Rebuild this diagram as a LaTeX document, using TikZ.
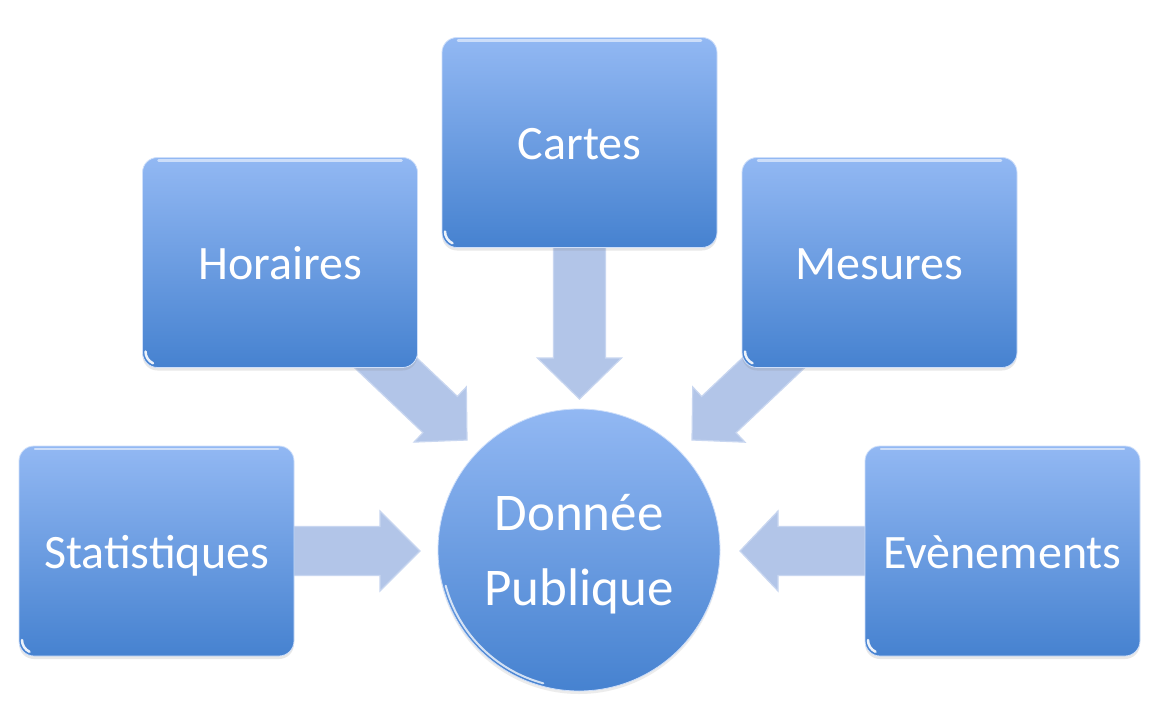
\documentclass[tikz,border=0pt]{standalone}
\usepackage{fontspec}
\setmainfont{Carlito}
\usetikzlibrary{calc,shadows}
\pgfdeclarelayer{canvasbg}
\pgfdeclarelayer{background}
\pgfsetlayers{canvasbg,background,main}
\definecolor{boxtop}{RGB}{146,184,243}
\definecolor{boxbot}{RGB}{70,130,208}
\definecolor{arrowfill}{RGB}{178,197,232}
\definecolor{arrowedge}{RGB}{200,214,240}
\tikzset{
  glossybox/.style={path picture={
    \draw[white,opacity=0.55,line width=2.5pt,line cap=round]
      ([xshift=16pt,yshift=-3pt]path picture bounding box.north west) --
      ([xshift=-16pt,yshift=-3pt]path picture bounding box.north east);
    \draw[white,opacity=0.9,line width=2.5pt,line cap=round]
      ([xshift=3pt,yshift=16pt]path picture bounding box.south west)
      arc[start angle=180,end angle=245,radius=13pt];
  }},
  glossyhub/.style={path picture={
    \draw[white,opacity=0.75,line width=2pt,line cap=round]
      (path picture bounding box.center) ++(195:138pt)
      arc[start angle=195,end angle=255,radius=138pt];
  }},
  databox/.style={rectangle, rounded corners=15pt, minimum width=275pt,
    minimum height=210pt, inner sep=0pt, top color=boxtop, bottom color=boxbot,
    draw=boxtop!45!white, line width=0.8pt, text=white,
    font=\fontsize{48}{56}\selectfont, text height=40pt, text depth=6pt,
    drop shadow={shadow xshift=0pt,shadow yshift=-3pt,opacity=0.18},
    glossybox},
  hub/.style={circle, minimum size=282pt, inner sep=0pt, top color=boxtop,
    bottom color=boxbot, draw=boxtop!45!white, line width=0.8pt, text=white,
    align=center, font=\fontsize{53}{75}\selectfont, text depth=0pt,
    drop shadow={shadow xshift=0pt,shadow yshift=-3pt,opacity=0.15},
    glossyhub},
  blockarrow/.style={fill=arrowfill, draw=arrowedge, line width=1.2pt, line join=miter}
}
% #1 start, #2 tip, #3 shaft half width, #4 head half width, #5 head length
\newcommand{\flowarrow}[5]{%
  \coordinate (fa-b) at ($(#2)!#5!(#1)$);
  \path[blockarrow] ($(#1)!#3!90:(#2)$) -- ($(fa-b)!#3!90:(#2)$) --
    ($(fa-b)!#4!90:(#2)$) -- (#2) -- ($(fa-b)!#4!-90:(#2)$) --
    ($(fa-b)!#3!-90:(#2)$) -- ($(#1)!#3!-90:(#2)$) -- cycle;
}
\begin{document}
\begin{tikzpicture}[x=1pt,y=-1pt]
  \begin{pgfonlayer}{canvasbg}
    \fill[white] (0,0) rectangle (1157,709);
  \end{pgfonlayer}
  \useasboundingbox (0,0) rectangle (1157,709);

  \node[databox] (cartes)   at (579.5,142.5) {Cartes};
  \node[databox] (horaires) at (280,262.5)   {Horaires};
  \node[databox] (mesures)  at (879.5,262.5) {Mesures};
  \node[databox] (stat)     at (156.5,551)   {Statistiques};
  \node[databox] (even)     at (1002.5,551)  {Evènements};
  \node[hub]     (hub)      at (579,550)     {Donnée\\Publique};

  \coordinate (tip-cartes)   at (579.5,399);
  \coordinate (tip-horaires) at (467,440);
  \coordinate (tip-mesures)  at (692,440);
  \coordinate (tip-stat)     at (420,551);
  \coordinate (tip-even)     at (740,551);

  \begin{pgfonlayer}{background}
    \flowarrow{cartes.center}{tip-cartes}{26pt}{42pt}{41pt}
    \flowarrow{horaires.center}{tip-horaires}{25pt}{38pt}{37pt}
    \flowarrow{mesures.center}{tip-mesures}{25pt}{38pt}{37pt}
    \flowarrow{stat.center}{tip-stat}{24.5pt}{40pt}{40pt}
    \flowarrow{even.center}{tip-even}{24.5pt}{40pt}{38pt}
  \end{pgfonlayer}
\end{tikzpicture}
\end{document}
